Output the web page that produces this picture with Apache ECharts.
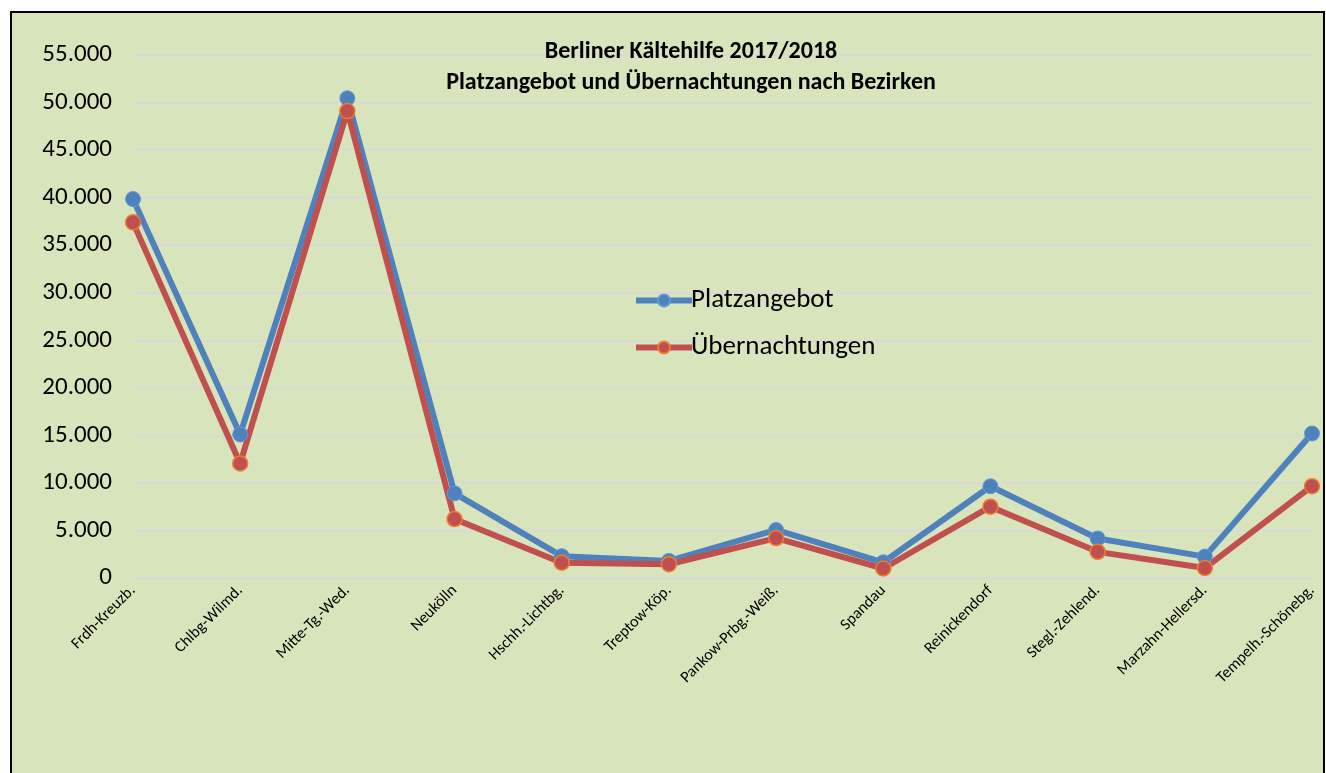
<!DOCTYPE html>
<html>
<head>
<meta charset="utf-8">
<script src="https://cdn.jsdelivr.net/npm/echarts@6/dist/echarts.min.js"></script>
<style>
  html, body { margin: 0; padding: 0; background: #fff; }
  #chart { width: 1326px; height: 773px; }
</style>
</head>
<body>
<div id="chart"></div>
<script>
// Bezirke
var categories = ['Frdh-Kreuzb.', 'Chlbg-Wilmd.', 'Mitte-Tg.-Wed.', 'Neukölln', 'Hschh.-Lichtbg.',
  'Treptow-Köp.', 'Pankow-Prbg.-Weiß.', 'Spandau', 'Reinickendorf', 'Stegl.-Zehlend.',
  'Marzahn-Hellersd.', 'Tempelh.-Schönebg.'];
var platzangebot = [39850, 15100, 50450, 8900, 2300, 1800, 5050, 1650, 9650, 4150, 2250, 15200];
var uebernachtungen = [37400, 12050, 49100, 6200, 1600, 1450, 4200, 1000, 7500, 2750, 1050, 9650];
var yTicks = [0, 5000, 10000, 15000, 20000, 25000, 30000, 35000, 40000, 45000, 50000, 55000];

var font = 'Carlito, "Open Sans", "Noto Sans", sans-serif';

function fmt(v) {
  // deutsches Tausendertrennzeichen
  return String(v).replace(/\B(?=(\d{3})+(?!\d))/g, '.');
}

var chart = echarts.init(document.getElementById('chart'));

var option = {
  backgroundColor: '#ffffff',
  animation: false,
  graphic: [
    {
      type: 'rect',
      z: -10,
      shape: { x: 11, y: 12, width: 1313, height: 780 },
      style: { fill: '#D8E4BC', stroke: '#000', lineWidth: 2 }
    }
  ],
  title: {
    text: 'Berliner Kältehilfe 2017/2018\nPlatzangebot und Übernachtungen nach Bezirken',
    left: 686,
    textAlign: 'center',
    top: 31,
    textStyle: {
      fontFamily: font,
      fontSize: 24,
      fontWeight: 'bold',
      color: '#000',
      lineHeight: 31
    }
  },
  legend: {
    orient: 'vertical',
    left: 628,
    top: 282,
    itemWidth: 56,
    itemHeight: 15,
    itemGap: 20,
    lineStyle: { width: 6 },
    textStyle: { fontFamily: font, fontSize: 27, color: '#000', padding: [0, 0, 0, -6] },
    data: ['Platzangebot', 'Übernachtungen']
  },
  grid: {
    left: 133,
    right: 14,
    top: 55,
    bottom: 195
  },
  xAxis: {
    type: 'category',
    data: categories,
    boundaryGap: false,
    axisLine: { show: false },
    axisTick: { show: false },
    axisLabel: {
      rotate: 45,
      interval: 0,
      margin: 10,
      fontFamily: font,
      fontSize: 16,
      color: '#000'
    }
  },
  yAxis: {
    type: 'value',
    min: 0,
    max: 55000,
    interval: 5000,
    axisLine: { show: false },
    axisTick: { show: false },
    splitLine: { lineStyle: { color: '#D9D9D9', width: 2 } },
    axisLabel: {
      margin: 21,
      fontFamily: font,
      fontSize: 25,
      color: '#000',
      formatter: function (v) {
        return yTicks.indexOf(v) >= 0 ? fmt(v) : '';
      }
    }
  },
  series: [
    {
      name: 'Platzangebot',
      type: 'line',
      data: platzangebot,
      symbol: 'circle',
      symbolSize: 15,
      lineStyle: { color: '#4F81BD', width: 6 },
      itemStyle: { color: '#4F81BD', borderColor: '#5B9BD5', borderWidth: 1 }
    },
    {
      name: 'Übernachtungen',
      type: 'line',
      data: uebernachtungen,
      symbol: 'circle',
      symbolSize: 15,
      lineStyle: { color: '#C0504D', width: 6 },
      itemStyle: { color: '#C0504D', borderColor: '#ED7D31', borderWidth: 1.5 }
    }
  ]
};

chart.setOption(option);
</script>
</body>
</html>
